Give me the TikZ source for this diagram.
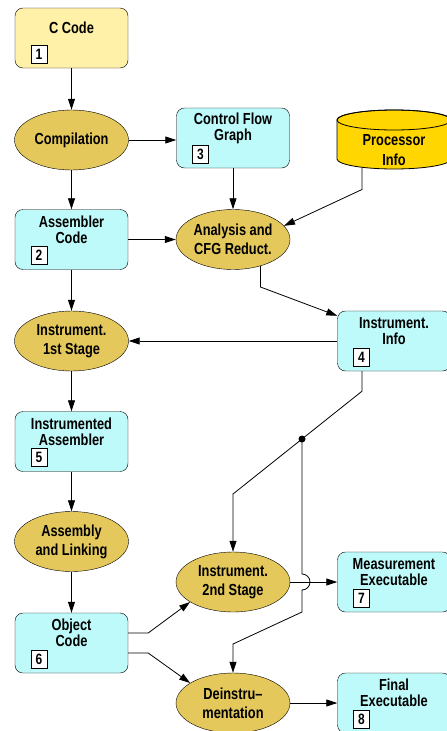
\documentclass[tikz,border=0pt]{standalone}
\usepackage{fontspec}
\setmainfont{Liberation Sans}[FakeStretch=0.8]
\usetikzlibrary{arrows.meta,positioning,calc,shapes.geometric}
\definecolor{ylw}{RGB}{255,241,168}
\definecolor{cyn}{RGB}{190,250,250}
\definecolor{gld}{RGB}{228,200,92}
\definecolor{org}{RGB}{255,214,0}
\tikzset{blk/.style={draw,fill=cyn,rounded corners=8pt,minimum width=113pt,minimum height=60pt,inner sep=0pt},
 yblk/.style={blk,fill=ylw},
 proc/.style={ellipse,draw,fill=gld,minimum width=114pt,minimum height=60pt,inner sep=0pt,align=center,font=\bfseries\fontsize{16}{19}\selectfont},
 txt/.style={align=center,inner sep=0pt,font=\bfseries\fontsize{16}{16}\selectfont},
 num/.style={draw,fill=white,minimum width=16pt,minimum height=18pt,inner sep=0pt,font=\bfseries\fontsize{15}{15}\selectfont},
 wire/.style={line width=.8pt},arr/.style={wire,-{Triangle[length=11pt,width=7pt]}}}
% box with its text and number
\newcommand{\mkbox}[5][blk]{\node[#1] (#2) at (#3) {};
 \node[txt] (#2t) at ([yshift=10pt]#2.center) {#4};
 \node[num,anchor=south west] (#2n) at ([shift={(16pt,5pt)}]#2.south west) {#5};}
\begin{document}
\begin{tikzpicture}[x=1pt,y=1pt]
\useasboundingbox (0,0) rectangle (447,-731);
\mkbox[yblk]{code}{71.5,-38}{C Code}{1}
\node[proc] (comp) at (71.5,-140) {Compilation};\mkbox{cfg}{233,-138}{Control Flow\\Graph}{3}
% processor info drum
\filldraw[fill=org,wire] (337,-120)--(337,-159) arc[start angle=180,end angle=360,x radius=57pt,y radius=10pt]--(451,-120)
 arc[start angle=0,end angle=180,x radius=57pt,y radius=10pt]--cycle;
\draw[wire] (394,-120) ellipse[x radius=57pt,y radius=10pt];
\node[txt,font=\bfseries\fontsize{16}{20}\selectfont] (pinfo) at (394,-150) {Processor\\Info};
\coordinate (pbot) at (362,-167.5);
\mkbox{asm}{71.5,-239.5}{Assembler\\Code}{2}\node[proc] (ana) at (233,-239.5) {Analysis and\\CFG Reduct.};
\node[proc] (st1) at (71.5,-341) {Instrument.\\1st Stage};\mkbox{iinfo}{394,-341}{Instrument.\\Info}{4}
\mkbox{iasm}{71.5,-441.5}{Instrumented\\Assembler}{5}
\node[proc] (link) at (71.5,-541.5) {Assembly\\and Linking};
\node[proc] (st2) at (233,-582) {Instrument.\\2nd Stage};\mkbox{meas}{394,-582}{Measurement\\Executable}{7}
\mkbox{obj}{71.5,-643}{Object\\Code}{6}
\node[proc] (dein) at (233,-703) {Deinstru--\\mentation};\mkbox{fin}{394,-703}{Final\\Executable}{8}
\node[fill,circle,inner sep=0pt,minimum size=7pt] (dot) at (302,-439) {};
% left column
\draw[arr] (code)--(comp);\draw[arr] (comp)--(asm);\draw[arr] (asm)--(st1);
\draw[arr] (st1)--(iasm);\draw[arr] (iasm)--(link);\draw[arr] (link)--(obj);
% analysis
\draw[arr] (comp.east)--(comp.east -| cfg.west);\draw[arr] (cfg)--(ana);\draw[arr] (asm.east)--(ana.west);
\draw[arr] (pbot)--++(0,-22)--(ana.15);
\draw[arr] (ana.-44)--++(0,-21)--([yshift=-5pt]iinfo.north west);
\draw[arr] (iinfo.west)--(st1.east);
% second stage
\draw[arr] ([xshift=-32pt]iinfo.south)--++(0,-20)--(dot.center)--(233,-494)--(st2.north);
\draw[arr] (dot.center)--(302,-574) arc[start angle=90,end angle=-90,radius=8pt]--(302,-612)--(233,-644)--(dein.north);
\draw[arr] ([yshift=10pt]obj.east)--++(20,0)--(st2.-155);\draw[arr] ([yshift=-10pt]obj.east)--++(20,0)--(dein.155);
\draw[arr] (st2.east)--(meas.west);\draw[arr] (dein.east)--(fin.west);
\end{tikzpicture}
\end{document}
